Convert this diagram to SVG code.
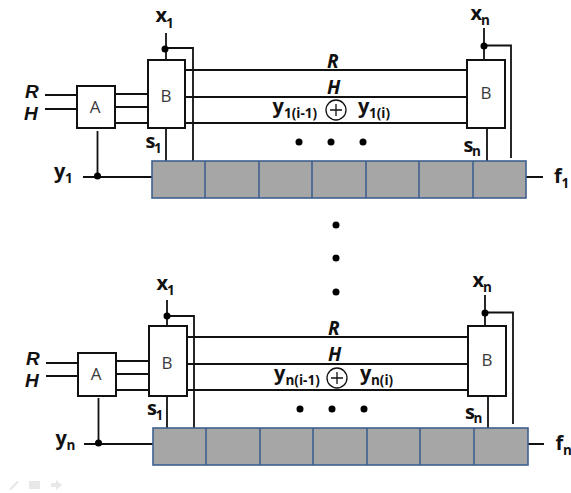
<svg xmlns="http://www.w3.org/2000/svg" width="571" height="493" viewBox="0 0 571 493">
<style>
text{font-family:"Open Sans","Liberation Sans",sans-serif;fill:#111}
.l{font-size:20px;font-weight:700}
.s{font-size:13.500px;font-weight:700}
.i{font-size:19px;font-weight:700;font-style:italic;font-family:"Liberation Sans",Arial,sans-serif}
.j{font-size:19px;font-weight:700;font-style:italic}
.b{font-size:17px;fill:#3a3a3a}
.box{fill:#fff;stroke:#111;stroke-width:2}
.cell{fill:#a6a6a6;stroke:#3f5f8f;stroke-width:1.6}
.w{fill:none;stroke:#111;stroke-width:1.8}
.d{fill:#000}
.o{fill:none;stroke:#111;stroke-width:1.3}
.g{fill:#e8e8e8}
</style>
<g id="connectors">
<path class="w" d="M45 95H77M45 109H77M115 94H148M115 107H148M115 123H148M185 70H467M185 97H467M185 123H467M166 33V60M166 48H193V161M166 128V161M97.500 131V177M83 177H152M484 28V60M484 45.500H511V158M487 128V161M526 177H543"/>
<path class="w" d="M46 363H78M46 376H78M116 361H149M116 374H149M116 390H149M187 337H468M187 364H468M187 390H468M167 300V326M167 316H194V428M167 396V428M98.500 398V444M84 444H153M485 295V326M485 312.500H513V424M488 396V428M528 444H544"/>
</g>
<g id="top-junctions">
<circle class="d" cx="165" cy="49" r="3.500"/><circle class="d" cx="484" cy="46" r="3.500"/><circle class="d" cx="97.500" cy="176" r="3.500"/>
<circle class="d" cx="299" cy="142" r="3.500"/><circle class="d" cx="331" cy="142" r="3.500"/><circle class="d" cx="363" cy="142" r="3.500"/>
</g>
<g id="mid-dots">
<circle class="d" cx="336" cy="225" r="3.500"/><circle class="d" cx="336" cy="258" r="3.500"/><circle class="d" cx="336" cy="292" r="3.500"/>
</g>
<g id="bottom-junctions">
<circle class="d" cx="167" cy="316" r="3.500"/><circle class="d" cx="485" cy="313" r="3.500"/><circle class="d" cx="98.500" cy="443" r="3.500"/>
<circle class="d" cx="300" cy="409" r="3.500"/><circle class="d" cx="332" cy="409" r="3.500"/><circle class="d" cx="364" cy="409" r="3.500"/>
</g>
<g id="A-top"><rect class="box" x="77" y="86" width="38" height="42"/><text class="b" x="95" y="113" text-anchor="middle">A</text></g>
<g id="B1-top"><rect class="box" x="148" y="60" width="37" height="68"/><text class="b" x="166" y="102" text-anchor="middle">B</text></g>
<g id="Bn-top"><rect class="box" x="467" y="60" width="38" height="68"/><text class="b" x="486" y="98.500" text-anchor="middle">B</text></g>
<g id="register-top">
<rect class="cell" x="152" y="161" width="374" height="37"/>
<path class="cell" d="M205 161V198M259 161V198M312 161V198M366 161V198M419 161V198M473 161V198"/>
</g>
<g id="xor-top"><circle class="o" cx="336" cy="110" r="10"/><path class="o" d="M330 110H342M336 104V116"/></g>
<g id="A-bottom"><rect class="box" x="78" y="353" width="38" height="43"/><text class="b" x="96" y="380" text-anchor="middle">A</text></g>
<g id="B1-bottom"><rect class="box" x="149" y="326" width="38" height="70"/><text class="b" x="167" y="369" text-anchor="middle">B</text></g>
<g id="Bn-bottom"><rect class="box" x="468" y="326" width="38" height="70"/><text class="b" x="487" y="366" text-anchor="middle">B</text></g>
<g id="register-bottom">
<rect class="cell" x="153" y="428" width="375" height="37"/>
<path class="cell" d="M206 428V465M260 428V465M313 428V465M367 428V465M420 428V465M474 428V465"/>
</g>
<g id="xor-bottom"><circle class="o" cx="337" cy="378" r="10"/><path class="o" d="M331 378H343M337 372V384"/></g>
<g id="labels-top">
<text class="i" x="25" y="98">R</text><text class="i" x="24" y="119.500">H</text>
<text class="j" x="327" y="68">R</text><text class="j" x="327" y="94">H</text>
<text class="l" x="155.500" y="22">x</text><text class="s" x="166" y="28">1</text>
<text class="l" x="470.500" y="20">x</text><text class="s" x="481" y="25">n</text>
<text class="l" x="145.500" y="148">s</text><text class="s" x="154" y="153">1</text>
<text class="l" x="463.500" y="152">s</text><text class="s" x="472" y="156">n</text>
<text class="l" x="54" y="177.500">y</text><text class="s" x="65" y="183">1</text>
<text class="l" x="272.500" y="112.500">y</text><text class="s" x="284" y="118">1(i-1)</text>
<text class="l" x="358" y="112.500">y</text><text class="s" x="369" y="118">1(i)</text>
<text class="l" x="554" y="183">f</text><text class="s" x="561.500" y="188">1</text>
</g>
<g id="labels-bottom">
<text class="i" x="26" y="365">R</text><text class="i" x="25" y="386.500">H</text>
<text class="j" x="328" y="335">R</text><text class="j" x="328" y="361">H</text>
<text class="l" x="156.500" y="289.500">x</text><text class="s" x="167" y="295">1</text>
<text class="l" x="472.500" y="287">x</text><text class="s" x="483" y="292">n</text>
<text class="l" x="147" y="415">s</text><text class="s" x="155.500" y="420">1</text>
<text class="l" x="465" y="419">s</text><text class="s" x="473.500" y="423">n</text>
<text class="l" x="55.500" y="444.500">y</text><text class="s" x="66.500" y="450">n</text>
<text class="l" x="274" y="379.500">y</text><text class="s" x="285.500" y="385">n(i-1)</text>
<text class="l" x="360" y="379.500">y</text><text class="s" x="371" y="385">n(i)</text>
<text class="l" x="555.500" y="450">f</text><text class="s" x="563" y="455">n</text>
</g>
<g id="toolbar">
<path class="g" d="M9 489L17 481L19 482L11 490Z"/>
<rect class="g" x="29" y="481" width="11" height="8"/>
<path class="g" d="M51 483H56V480L62 485L56 490V487H51Z"/>
</g>
</svg>
